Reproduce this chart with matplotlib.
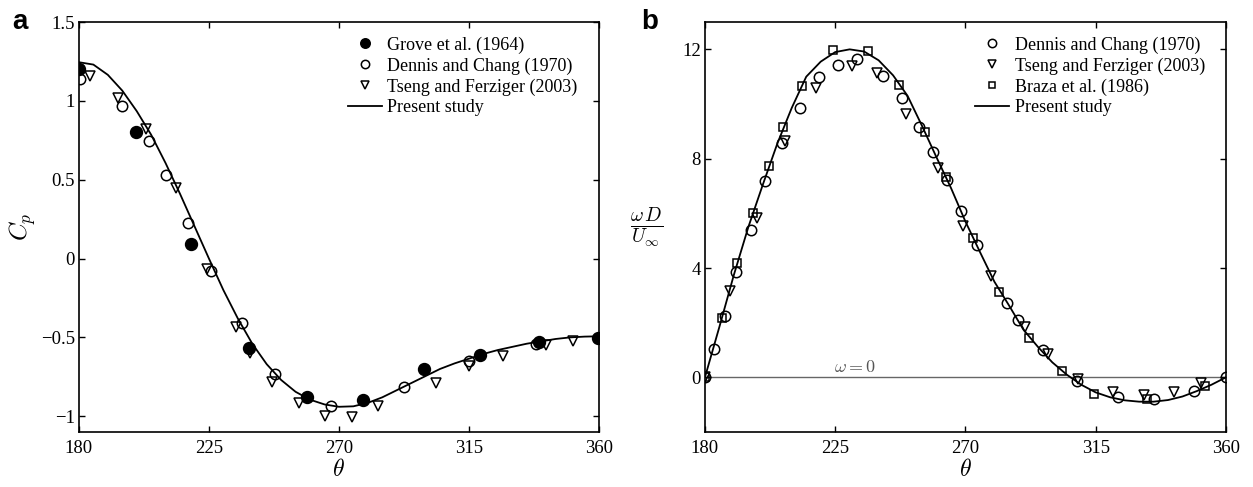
import matplotlib
matplotlib.use("Agg")
import matplotlib.pyplot as plt

plt.rcParams["font.family"] = ["Liberation Serif", "DejaVu Serif"]
plt.rcParams["mathtext.fontset"] = "cm"

# ---------------- Panel a: pressure coefficient ----------------
grove_theta = [180.0, 199.6, 218.8, 238.9, 258.9, 278.4, 299.4, 318.8, 339.3, 359.8]
grove_cp = [1.20, 0.80, 0.09, -0.566, -0.876, -0.90, -0.70, -0.61, -0.528, -0.506]

dennis_a_theta = [180.5, 194.8, 204.2, 210.0, 217.9, 225.7, 236.5, 248.0, 267.1, 292.6, 315.1, 338.2]
dennis_a_cp = [1.14, 0.97, 0.745, 0.53, 0.223, -0.078, -0.41, -0.73, -0.933, -0.816, -0.648, -0.54]

tseng_a_theta = [184.0, 193.6, 203.1, 213.5, 224.2, 234.2, 239.2, 246.7, 256.3, 265.2,
                 274.4, 283.4, 303.5, 315.0, 326.9, 341.6, 351.1]
tseng_a_cp = [1.16, 1.02, 0.82, 0.45, -0.068, -0.437, -0.60, -0.78, -0.916, -1.0,
              -1.006, -0.937, -0.79, -0.68, -0.62, -0.55, -0.525]

present_a_theta = [180, 185, 190, 195, 200, 205, 210, 215, 220, 225, 230, 235, 240, 245,
                   250, 255, 260, 265, 270, 275, 280, 285, 290, 295, 300, 305, 310, 315,
                   320, 325, 330, 335, 340, 345, 350, 355, 360]
present_a_cp = [1.245, 1.23, 1.165, 1.065, 0.935, 0.785, 0.605, 0.41, 0.205, 0.0, -0.2,
                -0.38, -0.54, -0.67, -0.77, -0.845, -0.895, -0.925, -0.94, -0.937, -0.915,
                -0.88, -0.835, -0.79, -0.745, -0.70, -0.665, -0.635, -0.605, -0.58, -0.56,
                -0.54, -0.525, -0.51, -0.50, -0.495, -0.493]

# ---------------- Panel b: surface vorticity ----------------
dennis_b_theta = [180.0, 183.1, 186.8, 190.7, 195.8, 200.7, 206.5, 212.8, 219.5, 226.1,
                  232.4, 241.6, 248.0, 254.1, 258.9, 263.5, 268.5, 273.9, 284.5, 288.3,
                  296.9, 308.4, 322.6, 335.3, 348.8, 360.0]
dennis_b_w = [0.0, 1.05, 2.23, 3.87, 5.40, 7.19, 8.59, 9.87, 10.97, 11.43, 11.63, 11.02,
              10.23, 9.17, 8.26, 7.22, 6.07, 4.85, 2.72, 2.08, 0.99, -0.15, -0.72, -0.78,
              -0.51, 0.0]

tseng_b_theta = [180.0, 188.6, 197.9, 207.6, 218.4, 230.7, 239.3, 249.5, 260.6, 269.3,
                 278.8, 290.6, 298.6, 309.0, 320.9, 331.8, 342.1, 351.3]
tseng_b_w = [0.0, 3.17, 5.82, 8.65, 10.57, 11.39, 11.12, 9.63, 7.65, 5.54, 3.69, 1.84,
             0.87, -0.06, -0.53, -0.63, -0.53, -0.21]

braza_theta = [180.0, 185.8, 191.2, 196.7, 202.2, 207.1, 213.4, 224.1, 236.4, 247.1, 256.0,
               263.3, 272.5, 281.7, 292.0, 303.2, 314.4, 332.8, 352.8]
braza_w = [0.0, 2.17, 4.18, 6.03, 7.73, 9.17, 10.66, 11.97, 11.94, 10.69, 8.99, 7.32, 5.09,
           3.14, 1.44, 0.22, -0.61, -0.79, -0.33]

present_b_theta = present_a_theta
present_b_w = [0.0, 1.85, 3.75, 5.5, 7.05, 8.55, 9.86, 11.0, 11.55, 11.9, 12.0, 11.92, 11.6,
               11.05, 10.3, 9.2, 8.05, 6.93, 5.7, 4.59, 3.5, 2.64, 1.75, 1.12, 0.55, 0.1,
               -0.27, -0.55, -0.73, -0.84, -0.89, -0.89, -0.83, -0.70, -0.50, -0.27, 0.0]

theta_ticks = [180, 225, 270, 315, 360]
cp_ticks = [-1, -0.5, 0, 0.5, 1, 1.5]
cp_ticklabels = ["\u22121", "\u22120.5", "0", "0.5", "1", "1.5"]
w_ticks = [0, 4, 8, 12]

fig = plt.figure(figsize=(12.53, 4.87), dpi=100)
ax1 = fig.add_axes([0.0630, 0.1129, 0.4150, 0.8419])
ax2 = fig.add_axes([0.5626, 0.1129, 0.4158, 0.8419])

TICK_FS = 13.5
LEG_FS = 13


def style(ax):
    for s in ax.spines.values():
        s.set_linewidth(1.2)
    ax.tick_params(direction="in", top=True, right=True, length=4, width=1.0,
                   labelsize=TICK_FS)
    ax.tick_params(axis="x", pad=6)
    ax.tick_params(axis="y", pad=3)
    ax.set_xlim(180, 360)
    ax.set_xticks(theta_ticks)
    ax.set_xlabel(r"$\theta$", fontsize=17, labelpad=1)


mk = dict(color="black", linestyle="none", markeredgewidth=1.1)
leg_kw = dict(loc="upper left", frameon=False, fontsize=LEG_FS, borderaxespad=0,
              borderpad=0, handlelength=1.9, handletextpad=0.3, labelspacing=0.2,
              markerscale=0.8)

# Panel a
ax1.plot(grove_theta, grove_cp, marker="o", markersize=8.5, label="Grove et al. (1964)", **mk)
ax1.plot(dennis_a_theta, dennis_a_cp, marker="o", markersize=7.5, markerfacecolor="none",
         label="Dennis and Chang (1970)", **mk)
ax1.plot(tseng_a_theta, tseng_a_cp, marker="v", markersize=7.5, markerfacecolor="none",
         label="Tseng and Ferziger (2003)", **mk)
ax1.plot(present_a_theta, present_a_cp, color="black", linewidth=1.3, label="Present study")
style(ax1)
ax1.set_ylim(-1.1, 1.5)
ax1.set_yticks(cp_ticks)
ax1.set_yticklabels(cp_ticklabels)
ax1.set_ylabel(r"$C_p$", fontsize=18, va="center", ha="center")
ax1.yaxis.set_label_coords(-0.108, 0.5)
ax1.legend(bbox_to_anchor=(0.517, 0.965), **leg_kw)

# Panel b
ax2.axhline(0, color="#666666", linewidth=1.0, zorder=1)
ax2.text(232, 0.05, r"$\omega=0$", color="#555555", fontsize=13, ha="center", va="bottom")
ax2.plot(dennis_b_theta, dennis_b_w, marker="o", markersize=7.5, markerfacecolor="none",
         label="Dennis and Chang (1970)", **mk)
ax2.plot(tseng_b_theta, tseng_b_w, marker="v", markersize=7.5, markerfacecolor="none",
         label="Tseng and Ferziger (2003)", **mk)
ax2.plot(braza_theta, braza_w, marker="s", markersize=6.0, markerfacecolor="none",
         label="Braza et al. (1986)", **mk)
ax2.plot(present_b_theta, present_b_w, color="black", linewidth=1.3, label="Present study")
style(ax2)
ax2.set_ylim(-2, 13)
ax2.set_yticks(w_ticks)
ax2.set_ylabel(r"$\frac{\omega\, D}{U_\infty}$", fontsize=20, rotation=0,
               ha="center", va="center")
ax2.yaxis.set_label_coords(-0.113, 0.50)
ax2.legend(bbox_to_anchor=(0.518, 0.965), **leg_kw)

fig.text(0.016, 0.955, "a", fontsize=20, fontweight="bold", family="Liberation Sans",
         ha="center", va="center")
fig.text(0.5185, 0.955, "b", fontsize=20, fontweight="bold", family="Liberation Sans",
         ha="center", va="center")

fig.savefig("out.png", dpi=100)
